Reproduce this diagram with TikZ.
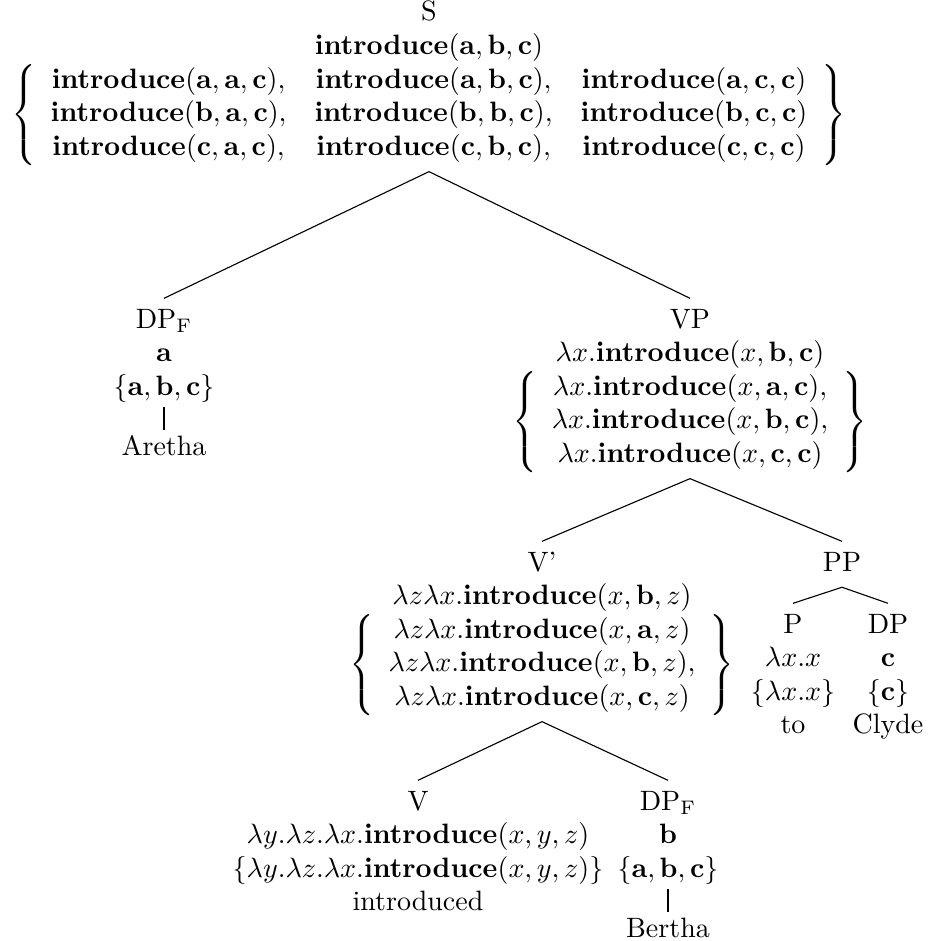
\documentclass[tikz,border=0pt]{standalone}
\usepackage{amsmath}
\newcommand{\intro}{\mathbf{introduce}}
\newcommand{\entA}{\mathbf{a}}
\newcommand{\entB}{\mathbf{b}}
\newcommand{\entC}{\mathbf{c}}
\begin{document}
\begin{tikzpicture}[x=0.35714pt,y=-0.35714pt,
  tn/.style={anchor=base, inner xsep=0pt, inner ysep=2pt},
  edge/.style={line width=0.4pt},
  bar/.style={line width=0.4pt, shorten <=-1.6pt, shorten >=-1.6pt}]
\useasboundingbox (0,0) rectangle (930,941);
% S
\node[tn] (S) at (429,21) {\begin{tabular}[t]{@{}c@{}} S\\
 $\intro(\entA,\entB,\entC)$\\
 $\left\{\begin{array}{ccc}
 \intro(\entA,\entA,\entC), & \intro(\entA,\entB,\entC), & \intro(\entA,\entC,\entC)\\
 \intro(\entB,\entA,\entC), & \intro(\entB,\entB,\entC), & \intro(\entB,\entC,\entC)\\
 \intro(\entC,\entA,\entC), & \intro(\entC,\entB,\entC), & \intro(\entC,\entC,\entC)
 \end{array}\right\}$\end{tabular}};
% DP_F (a)
\node[tn] (DPa) at (164,328) {\begin{tabular}[t]{@{}c@{}} DP$_{\mathrm{F}}$\\ $\entA$\\ $\{\entA,\entB,\entC\}$\end{tabular}};
\node[tn] (Aretha) at (164,455) {\begin{tabular}[t]{@{}c@{}} Aretha\end{tabular}};
% VP
\node[tn] (VP) at (690,328) {\begin{tabular}[t]{@{}c@{}} VP\\
 $\lambda x.\intro(x,\entB,\entC)$\\
 $\left\{\begin{array}{c}
 \lambda x.\intro(x,\entA,\entC),\\
 \lambda x.\intro(x,\entB,\entC),\\
 \lambda x.\intro(x,\entC,\entC)
 \end{array}\right\}$\end{tabular}};
% V'
\node[tn] (Vbar) at (542,571) {\begin{tabular}[t]{@{}c@{}} V'\\
 $\lambda z\lambda x.\intro(x,\entB,z)$\\
 $\left\{\begin{array}{c}
 \lambda z\lambda x.\intro(x,\entA,z)\\
 \lambda z\lambda x.\intro(x,\entB,z),\\
 \lambda z\lambda x.\intro(x,\entC,z)
 \end{array}\right\}$\end{tabular}};
% PP
\node[tn] (PP) at (842,571) {\begin{tabular}[t]{@{}c@{}} PP\end{tabular}};
\node[tn] (P) at (793,633) {\begin{tabular}[t]{@{}c@{}} P\\ $\lambda x.x$\\ $\{\lambda x.x\}$\\ to\end{tabular}};
\node[tn] (DPc) at (888,633) {\begin{tabular}[t]{@{}c@{}} DP\\ $\entC$\\ $\{\entC\}$\\ Clyde\end{tabular}};
% V
\node[tn] (V) at (418,810) {\begin{tabular}[t]{@{}c@{}} V\\
 $\lambda y.\lambda z.\lambda x.\intro(x,y,z)$\\
 $\{\lambda y.\lambda z.\lambda x.\intro(x,y,z)\}$\\
 introduced\end{tabular}};
\node[tn] (DPb) at (668,810) {\begin{tabular}[t]{@{}c@{}} DP$_{\mathrm{F}}$\\ $\entB$\\ $\{\entA,\entB,\entC\}$\end{tabular}};
\node[tn] (Bertha) at (668,937) {\begin{tabular}[t]{@{}c@{}} Bertha\end{tabular}};
% edges
\draw[edge] (S.south) -- (DPa.north);
\draw[edge] (S.south) -- (VP.north);
\draw[bar] (DPa.south) -- (Aretha.north);
\draw[edge] (VP.south) -- (Vbar.north);
\draw[edge] (VP.south) -- (PP.north);
\draw[edge] (PP.south) -- (P.north);
\draw[edge] (PP.south) -- (DPc.north);
\draw[edge] (Vbar.south) -- (V.north);
\draw[edge] (Vbar.south) -- (DPb.north);
\draw[bar] (DPb.south) -- (Bertha.north);
\end{tikzpicture}
\end{document}
